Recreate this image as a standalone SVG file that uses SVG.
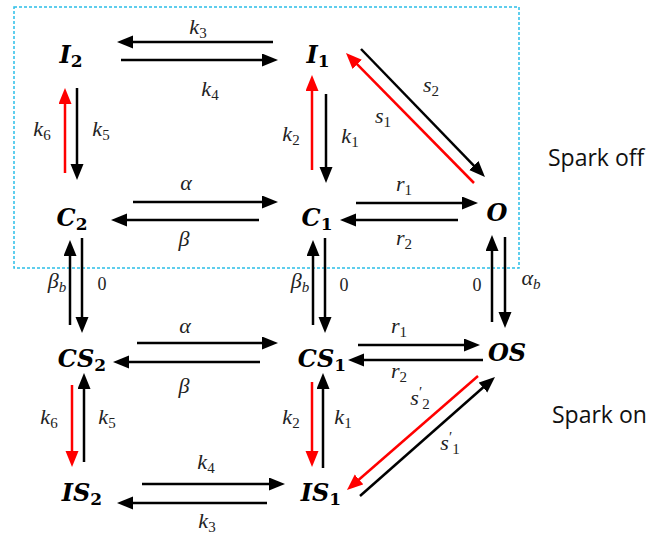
<svg xmlns="http://www.w3.org/2000/svg" width="664" height="535" viewBox="0 0 664 535">
<style>
.ln{stroke:#000;stroke-width:2.5;fill:none;marker-end:url(#ah)}
.rd{stroke:#f00;stroke-width:2.5;fill:none;marker-end:url(#ahr)}
.nd{font-family:"DejaVu Serif","Liberation Serif",serif;font-weight:bold;font-style:italic;font-size:24px;text-anchor:middle;fill:#000}
.nd tspan{font-size:17px;font-style:normal}
.lb{font-family:"Liberation Serif","DejaVu Serif",serif;font-style:italic;font-size:22px;text-anchor:middle;fill:#222}
.lb tspan.s{font-size:15px;font-style:normal}
.lb tspan.si{font-size:15px}
.zr{font-family:"Liberation Serif","DejaVu Serif",serif;font-size:18px;text-anchor:middle;fill:#222}
.sp{font-family:"Open Sans","Liberation Sans",sans-serif;font-size:23px;fill:#111}
</style>
<defs>
<marker id="ah" markerUnits="userSpaceOnUse" markerWidth="18" markerHeight="14" refX="8" refY="6.5" orient="auto"><path d="M0,0 L16,6.5 L0,13 z" fill="#000"/></marker>
<marker id="ahr" markerUnits="userSpaceOnUse" markerWidth="18" markerHeight="14" refX="8" refY="6.5" orient="auto"><path d="M0,0 L16,6.5 L0,13 z" fill="#f00"/></marker>
</defs>
<rect x="14" y="7" width="505" height="261" fill="none" stroke="#2bbfe8" stroke-width="1.5" stroke-dasharray="3,2"/>
<g id="connectors">
<line class="ln" x1="273" y1="42" x2="125" y2="42"/>
<line class="ln" x1="121" y1="60" x2="270" y2="60"/>
<line class="rd" x1="65" y1="173" x2="65" y2="96"/>
<line class="ln" x1="77" y1="88" x2="77" y2="172"/>
<line class="rd" x1="312" y1="170" x2="312" y2="83"/>
<line class="ln" x1="326" y1="94" x2="326" y2="175"/>
<line class="ln" x1="133" y1="202" x2="270" y2="202"/>
<line class="ln" x1="259" y1="220" x2="119" y2="220"/>
<line class="ln" x1="356" y1="203" x2="470" y2="203"/>
<line class="ln" x1="458" y1="220" x2="348" y2="220"/>
<line class="ln" x1="361" y1="49" x2="479.4" y2="171.3"/>
<line class="rd" x1="474" y1="183" x2="351.6" y2="58.7"/>
<line class="ln" x1="70" y1="325" x2="70" y2="248"/>
<line class="ln" x1="82" y1="238" x2="82" y2="325"/>
<line class="ln" x1="313" y1="325" x2="313" y2="248"/>
<line class="ln" x1="325" y1="238" x2="325" y2="325"/>
<line class="ln" x1="492" y1="322" x2="492" y2="243"/>
<line class="ln" x1="505" y1="237" x2="505" y2="320"/>
<line class="ln" x1="137" y1="343" x2="270" y2="343"/>
<line class="ln" x1="260" y1="362" x2="121" y2="362"/>
<line class="ln" x1="358" y1="345" x2="472" y2="345"/>
<line class="ln" x1="483" y1="360" x2="356" y2="360"/>
<line class="rd" x1="72" y1="385" x2="72" y2="459"/>
<line class="ln" x1="84" y1="462" x2="84" y2="381"/>
<line class="rd" x1="312" y1="382" x2="312" y2="459"/>
<line class="ln" x1="323" y1="468" x2="323" y2="381"/>
<line class="ln" x1="142" y1="484" x2="277" y2="484"/>
<line class="ln" x1="267" y1="503" x2="125" y2="503"/>
<line class="rd" x1="478" y1="376" x2="353" y2="484.7"/>
<line class="ln" x1="360" y1="496" x2="489" y2="382.3"/>
</g>
<g id="labels">
<text class="lb" x="198" y="34">k<tspan class="s" dy="4">3</tspan></text>
<text class="lb" x="210" y="96">k<tspan class="s" dy="4">4</tspan></text>
<text class="lb" x="42" y="136">k<tspan class="s" dy="4">6</tspan></text>
<text class="lb" x="101" y="136">k<tspan class="s" dy="4">5</tspan></text>
<text class="lb" x="291" y="141">k<tspan class="s" dy="4">2</tspan></text>
<text class="lb" x="350" y="143">k<tspan class="s" dy="4">1</tspan></text>
<text class="lb" x="186" y="190">α</text>
<text class="lb" x="184" y="246">β</text>
<text class="lb" x="404" y="191">r<tspan class="s" dy="4">1</tspan></text>
<text class="lb" x="404" y="245">r<tspan class="s" dy="4">2</tspan></text>
<text class="lb" x="431" y="92">s<tspan class="s" dy="4">2</tspan></text>
<text class="lb" x="383" y="123">s<tspan class="s" dy="4">1</tspan></text>
<text class="lb" x="57" y="288">β<tspan class="si" dy="4">b</tspan></text>
<text class="zr" x="102" y="290">0</text>
<text class="lb" x="300" y="288">β<tspan class="si" dy="4">b</tspan></text>
<text class="zr" x="344" y="291">0</text>
<text class="zr" x="477" y="291">0</text>
<text class="lb" x="531" y="285">α<tspan class="si" dy="4">b</tspan></text>
<text class="lb" x="185" y="333">α</text>
<text class="lb" x="184" y="393">β</text>
<text class="lb" x="399" y="333">r<tspan class="s" dy="4">1</tspan></text>
<text class="lb" x="399" y="378">r<tspan class="s" dy="4">2</tspan></text>
<text class="lb" x="49" y="424">k<tspan class="s" dy="4">6</tspan></text>
<text class="lb" x="107" y="424">k<tspan class="s" dy="4">5</tspan></text>
<text class="lb" x="291" y="424">k<tspan class="s" dy="4">2</tspan></text>
<text class="lb" x="343" y="424">k<tspan class="s" dy="4">1</tspan></text>
<text class="lb" x="206" y="469">k<tspan class="s" dy="4">4</tspan></text>
<text class="lb" x="207" y="528">k<tspan class="s" dy="4">3</tspan></text>
<text class="lb" x="420" y="405">s<tspan class="s" dy="-8">′</tspan><tspan class="s" dy="12">2</tspan></text>
<text class="lb" x="450" y="450">s<tspan class="s" dy="-8">′</tspan><tspan class="s" dy="12">1</tspan></text>
<text class="sp" x="548" y="166">Spark off</text>
<text class="sp" x="552" y="423">Spark on</text>
</g>
<g id="node-I2"><text class="nd" x="71" y="63">I<tspan dy="4">2</tspan></text></g>
<g id="node-I1"><text class="nd" x="318" y="63">I<tspan dy="4">1</tspan></text></g>
<g id="node-C2"><text class="nd" x="72" y="226">C<tspan dy="4">2</tspan></text></g>
<g id="node-C1"><text class="nd" x="317" y="226">C<tspan dy="4">1</tspan></text></g>
<g id="node-O"><text class="nd" x="497" y="221">O</text></g>
<g id="node-CS2"><text class="nd" x="82" y="367">CS<tspan dy="4">2</tspan></text></g>
<g id="node-CS1"><text class="nd" x="322" y="367">CS<tspan dy="4">1</tspan></text></g>
<g id="node-OS"><text class="nd" x="507" y="361">OS</text></g>
<g id="node-IS2"><text class="nd" x="82" y="501">IS<tspan dy="4">2</tspan></text></g>
<g id="node-IS1"><text class="nd" x="321" y="501">IS<tspan dy="4">1</tspan></text></g>
</svg>
